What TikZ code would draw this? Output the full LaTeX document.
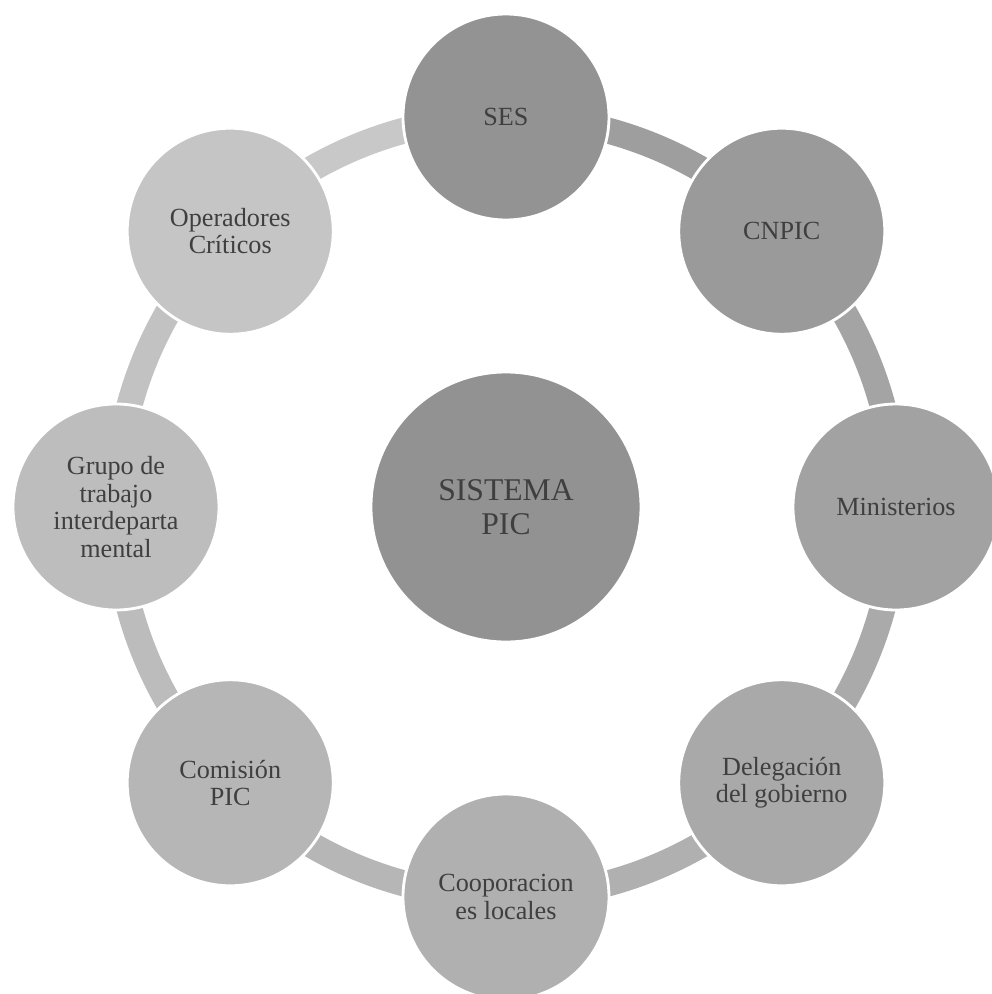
\documentclass[tikz,border=0pt]{standalone}
\usepackage{fontspec}
\setmainfont{Liberation Serif}
\begin{document}
\begin{tikzpicture}
  % fill shades of the outer circles (dark to light, clockwise from the top)
  \definecolor{cmid}{HTML}{929292}
  \definecolor{c1}{HTML}{939393}
  \definecolor{c2}{HTML}{9A9A9A}
  \definecolor{c3}{HTML}{A2A2A2}
  \definecolor{c4}{HTML}{A9A9A9}
  \definecolor{c5}{HTML}{B0B0B0}
  \definecolor{c6}{HTML}{B6B6B6}
  \definecolor{c7}{HTML}{BDBDBD}
  \definecolor{c8}{HTML}{C5C5C5}
  % ring segment shades
  \definecolor{s1}{HTML}{9E9E9E}
  \definecolor{s2}{HTML}{A4A4A4}
  \definecolor{s3}{HTML}{AAAAAA}
  \definecolor{s4}{HTML}{B0B0B0}
  \definecolor{s5}{HTML}{B6B6B6}
  \definecolor{s6}{HTML}{BCBCBC}
  \definecolor{s7}{HTML}{C2C2C2}
  \definecolor{s8}{HTML}{C8C8C8}
  \definecolor{txt}{HTML}{3F3F3F}
  \tikzset{
    item/.style={circle, minimum size=4.12cm, inner sep=0pt, draw=white,
      line width=1.6pt, align=center, text=txt,
      font=\fontsize{14.9}{15.6}\selectfont},
    hub/.style={item, minimum size=5.4cm, fill=cmid,
      font=\fontsize{18}{19}\selectfont},
    seg/.style={line width=0.52cm}
  }
  \useasboundingbox (-10.12,-9.74) rectangle (9.72,10.14);
  \def\R{7.8cm}

  % circles on the ring
  \path (90:\R)   coordinate (p1);
  \path (45:\R)   coordinate (p2);
  \path (0:\R)    coordinate (p3);
  \path (-45:\R)  coordinate (p4);
  \path (-90:\R)  coordinate (p5);
  \path (-135:\R) coordinate (p6);
  \path (180:\R)  coordinate (p7);
  \path (135:\R)  coordinate (p8);

  % ring segments, each running from one circle to the next
  \draw[seg, s1] (p1) arc[start angle=90,   end angle=45,   radius=\R];
  \draw[seg, s2] (p2) arc[start angle=45,   end angle=0,    radius=\R];
  \draw[seg, s3] (p3) arc[start angle=0,    end angle=-45,  radius=\R];
  \draw[seg, s4] (p4) arc[start angle=-45,  end angle=-90,  radius=\R];
  \draw[seg, s5] (p5) arc[start angle=-90,  end angle=-135, radius=\R];
  \draw[seg, s6] (p6) arc[start angle=-135, end angle=-180, radius=\R];
  \draw[seg, s7] (p7) arc[start angle=180,  end angle=135,  radius=\R];
  \draw[seg, s8] (p8) arc[start angle=135,  end angle=90,   radius=\R];

  \node[item, fill=c1] (ses)  at (p1) {SES};
  \node[item, fill=c2] (cnpic) at (p2) {CNPIC};
  \node[item, fill=c3] (min)  at (p3) {Ministerios};
  \node[item, fill=c4] (del)  at (p4) {Delegación\\del gobierno};
  \node[item, fill=c5] (coop) at (p5) {Cooporacion\\es locales};
  \node[item, fill=c6] (com)  at (p6) {Comisión\\PIC};
  \node[item, fill=c7] (gru)  at (p7) {Grupo de\\trabajo\\interdeparta\\mental};
  \node[item, fill=c8] (ope)  at (p8) {Operadores\\Críticos};

  \node[hub] (pic) at (0,0) {SISTEMA\\PIC};
\end{tikzpicture}
\end{document}
